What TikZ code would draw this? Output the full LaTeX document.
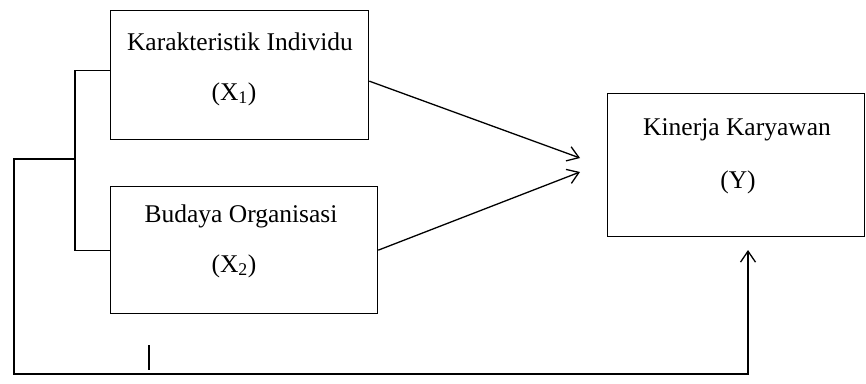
\documentclass[tikz,border=0pt]{standalone}
\usepackage{fontspec}
\setmainfont{Liberation Serif}
\usetikzlibrary{arrows.meta}
\begin{document}
\begin{tikzpicture}[x=1pt,y=-1pt,
  box/.style={draw,line width=1.3pt,rectangle,inner sep=0pt,anchor=north west},
  lbl/.style={font=\fontsize{25.5}{30}\selectfont,inner sep=0pt},
  conn/.style={line width=1.3pt},
  arr/.style={conn,-{Straight Barb[length=11pt,width=15pt,line width=1.3pt]}}]
\useasboundingbox (0,0) rectangle (866,383);
\node[box,minimum width=258pt,minimum height=129pt] (x1) at (110,10) {};
\node[box,minimum width=267pt,minimum height=127pt] (x2) at (110,186) {};
\node[box,minimum width=257pt,minimum height=143pt] (y) at (607,93) {};
\node[lbl] (t1a) at (240,42) {Karakteristik Individu};
\node[lbl] (t1b) at (234,94) {(X\textsubscript{1})};
\node[lbl] (t2a) at (241,216) {Budaya Organisasi};
\node[lbl] (t2b) at (234,266) {(X\textsubscript{2})};
\node[lbl] (tya) at (737,130) {Kinerja Karyawan};
\node[lbl] (tyb) at (738,182) {(Y)};
\coordinate (h1) at (580,158);
\coordinate (h2) at (580,172);
\coordinate (ytip) at (748,250);
\coordinate (j) at (75,159);
\draw[arr] ([yshift=-6pt]x1.east) -- (h1);
\draw[arr] (x2.east) -- (h2);
\draw[conn] ([yshift=4.5pt]x1.west) -- ++(-35,0) |- (x2.west);
\draw[arr] (j) -- (14,159) -- (14,374) -- (748,374) -- (ytip);
\draw[line width=2.5pt] (149,345) -- (149,370);
\end{tikzpicture}
\end{document}
